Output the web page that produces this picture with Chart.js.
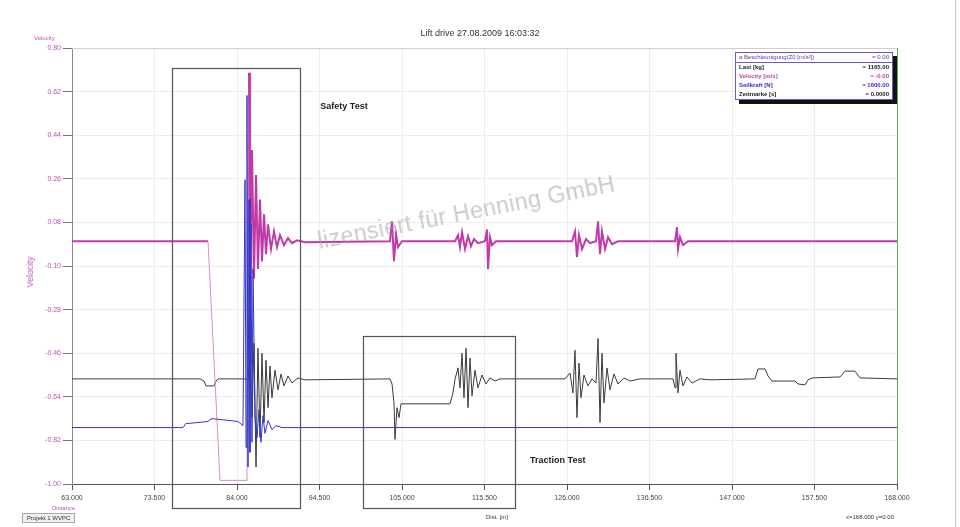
<!DOCTYPE html>
<html>
<head>
<meta charset="utf-8">
<title>Lift drive</title>
<script src="https://cdn.jsdelivr.net/npm/chart.js@4.4.1/dist/chart.umd.min.js"></script>
<style>
    html, body { margin: 0; padding: 0; background: #fff; }
    #wrap { position: relative; width: 960px; height: 527px; overflow: hidden; font-family: Arial, "Liberation Sans", sans-serif; }
    #wrap canvas { position: absolute; left: 0; top: 0; }
    .txt { position: absolute; white-space: nowrap; line-height: 1; }
    #frame { position: absolute; left: 955px; top: 0; width: 1px; height: 527px; background: #c8c8c8; }
    #legendBox { position: absolute; left: 735px; top: 52px; width: 156px; border: 1px solid #6a5acd; background: #fff; box-shadow: 4px 4px 0 #111; font-size: 6px; font-weight: bold; }
    #legendBox .row { display: flex; justify-content: space-between; padding: 1px 3px; height: 7px; line-height: 7px; }
    #legendBox .row.first { border-bottom: 1px solid #6a5acd; font-weight: normal; }
    #watermark { position: absolute; left: 318px; top: 228px; font-size: 23px; color: rgba(150,150,150,0.5); transform: rotate(-11deg); transform-origin: left center; letter-spacing: 0.5px; }
    #yTitle { position: absolute; left: 30px; top: 272px; font-size: 9px; color: #c050c0; transform: translate(-50%, -50%) rotate(-90deg); }
    #project { position: absolute; left: 22px; top: 513px; font-size: 6px; color: #333; background: #eee; border: 1px solid #aaa; padding: 1px 4px; }
</style>
</head>
<body>
<div id="wrap">
    <canvas id="liftChart" width="960" height="527"></canvas>
    <div class="txt" style="left:0;width:960px;top:29px;text-align:center;font-size:9px;color:#333;">Lift drive 27.08.2009 16:03:32</div>
    <div class="txt" style="left:34px;top:35px;font-size:6px;color:#c050c0;">Velocity</div>
    <div id="yTitle">Velocity</div>
    <div id="watermark">lizensiert für Henning GmbH</div>
    <div id="legendBox">
        <div class="row first" style="color:#4b3bb8;"><span>a Beschleunigung(Z0 [m/s²])</span><span>= 0.00</span></div>
        <div class="row" style="color:#222;"><span>Last [kg]</span><span>= 1165.00</span></div>
        <div class="row" style="color:#c040b0;"><span>Velocity [m/s]</span><span>= -0.00</span></div>
        <div class="row" style="color:#3030c0;"><span>Seilkraft [N]</span><span>= 1600.00</span></div>
        <div class="row" style="color:#222;"><span>Zeitmarke [s]</span><span>= 0.0000</span></div>
    </div>
    <div class="txt" style="left:52px;top:505px;font-size:6px;color:#c050c0;">Distance</div>
    <div id="project">Projekt 1 WVPC</div>
    <div class="txt" style="left:486px;top:514px;font-size:6px;color:#333;">Dist. [m]</div>
    <div class="txt" style="left:846px;top:514px;font-size:6px;color:#333;">x=168.000 y=0.00</div>
    <div id="frame"></div>
</div>

<script>
// ============================================
// LIFT DRIVE RECORDING
// ============================================

// axis ticks
const distTicks = [63, 73.5, 84, 94.5, 105, 115.5, 126, 136.5, 147, 157.5, 168];
const velTicks = [-1.00, -0.82, -0.64, -0.46, -0.28, -0.10, 0.08, 0.26, 0.44, 0.62, 0.80];

// traces as [distance, value]
const loadTrace = [
    [63.00,-0.566],[79.29,-0.566],[79.80,-0.575],[80.05,-0.595],[81.07,-0.595],[81.33,-0.575],[81.58,-0.566],
    [85.02,-0.566],[85.40,-0.575],[85.65,-0.480],[85.91,-0.726],[86.16,-0.419],[86.42,-0.930],[86.67,-0.440],
    [86.93,-0.808],[87.18,-0.460],[87.44,-0.746],[87.69,-0.489],[87.95,-0.685],[88.20,-0.513],[88.45,-0.644],
    [88.84,-0.530],[89.22,-0.611],[89.60,-0.546],[89.98,-0.595],[90.49,-0.554],[91.00,-0.583],[91.76,-0.562],
    [92.65,-0.570],[103.47,-0.566],[103.73,-0.587],[103.98,-0.665],[104.11,-0.816],[104.36,-0.685],[104.62,-0.726],
    [104.87,-0.669],[105.38,-0.669],[111.11,-0.669],[111.49,-0.624],[111.75,-0.566],[112.13,-0.521],[112.38,-0.603],
    [112.64,-0.460],[112.89,-0.644],[113.15,-0.440],[113.40,-0.685],[113.66,-0.480],[113.91,-0.636],[114.29,-0.530],
    [114.67,-0.603],[115.18,-0.550],[115.69,-0.587],[116.20,-0.562],[116.84,-0.575],[117.47,-0.566],[125.75,-0.566],
    [126.38,-0.542],[126.76,-0.624],[127.02,-0.448],[127.27,-0.726],[127.53,-0.501],[127.78,-0.644],[128.16,-0.550],
    [128.67,-0.595],[129.18,-0.566],[129.69,-0.583],[129.95,-0.399],[130.20,-0.746],[130.45,-0.460],[130.71,-0.665],
    [131.09,-0.521],[131.47,-0.611],[131.98,-0.546],[132.49,-0.587],[133.25,-0.562],[134.02,-0.575],[135.29,-0.566],
    [139.49,-0.566],[139.75,-0.603],[139.87,-0.460],[140.13,-0.624],[140.38,-0.530],[140.76,-0.595],[141.27,-0.558],
    [141.91,-0.583],[142.93,-0.566],[144.20,-0.570],[149.93,-0.566],[150.31,-0.525],[151.20,-0.525],[151.58,-0.554],
    [152.09,-0.575],[155.02,-0.575],[155.40,-0.587],[156.29,-0.591],[156.67,-0.570],[157.18,-0.562],[160.75,-0.558],
    [161.38,-0.534],[162.65,-0.534],[163.29,-0.562],[168.00,-0.566]
];

const velocityTrace = [
    [63.00,0.002],[80.31,0.002],[81.84,-0.985],[85.27,-0.985],[85.53,0.698],[85.65,-0.235],[85.91,0.379],
    [86.16,-0.153],[86.42,0.276],[86.67,-0.112],[86.93,0.174],[87.18,-0.080],[87.44,0.113],[87.69,-0.051],
    [87.95,0.072],[88.33,-0.030],[88.71,0.043],[89.09,-0.022],[89.47,0.027],[89.98,-0.014],[90.49,0.015],
    [91.00,-0.006],[91.64,0.006],[92.65,-0.002],[103.47,0.002],[103.73,0.084],[103.98,-0.080],[104.24,0.031],
    [104.49,-0.022],[105.00,0.002],[111.75,0.002],[112.13,0.027],[112.38,-0.022],[112.64,0.039],[113.02,-0.030],
    [113.40,0.023],[113.78,-0.018],[114.16,0.011],[114.67,-0.006],[115.56,0.002],[115.82,0.051],[115.95,-0.112],
    [116.20,0.019],[116.45,-0.014],[116.96,0.002],[126.64,0.002],[127.02,0.043],[127.27,-0.063],[127.53,0.027],
    [127.91,-0.030],[128.42,0.011],[128.93,-0.006],[129.69,0.002],[129.95,0.084],[130.20,-0.051],[130.45,0.043],
    [130.84,-0.030],[131.22,0.019],[131.73,-0.010],[132.49,0.002],[139.75,0.002],[140.00,0.060],[140.13,-0.030],
    [140.38,0.019],[140.76,-0.014],[141.40,0.002],[168.00,0.002]
];

const ropeForceTrace = [
    [63.00,-0.767],[77.13,-0.767],[77.51,-0.750],[77.76,-0.750],[80.31,-0.742],[80.56,-0.734],[80.82,-0.730],
    [84.13,-0.742],[84.76,-0.759],[85.02,0.256],[85.15,-0.849],[85.27,0.604],[85.40,-0.930],[85.53,0.174],
    [85.65,-0.869],[85.78,0.072],[85.91,-0.828],[86.04,-0.112],[86.29,-0.726],[86.55,-0.808],[86.80,-0.693],
    [87.05,-0.828],[87.31,-0.718],[87.56,-0.791],[87.95,-0.738],[88.45,-0.775],[88.96,-0.759],[89.73,-0.767],
    [168.00,-0.767]
];

// marked test sections (distance range, top/bottom value, label anchor)
const testBoxes = [
    { label: 'Safety Test', from: 75.73, to: 92.02, top: 0.718, bottom: -1.10, labelX: 94.6, labelY: 0.56 },
    { label: 'Traction Test', from: 100.04, to: 119.38, top: -0.39, bottom: -1.10, labelX: 121.3, labelY: -0.905 }
];

const toPoints = arr => arr.map(p => ({ x: p[0], y: p[1] }));

// the part of the velocity trace that hits the bottom limit is drawn faint
const atFloor = c => c.p0.parsed.y <= -0.98 || c.p1.parsed.y <= -0.98;

// frame edges + test boxes drawn against the scales
const testBoxPlugin = {
    id: 'testBoxes',
    afterDatasetsDraw(chart) {
        const { ctx, chartArea, scales } = chart;
        const xs = scales.x, ys = scales.y;
        ctx.save();
        // faint top edge, green right edge
        ctx.lineWidth = 1;
        ctx.strokeStyle = '#d0d0d0';
        ctx.beginPath();
        ctx.moveTo(chartArea.left, chartArea.top + 0.5);
        ctx.lineTo(chartArea.right, chartArea.top + 0.5);
        ctx.stroke();
        ctx.strokeStyle = '#4caf50';
        ctx.beginPath();
        ctx.moveTo(chartArea.right + 0.5, chartArea.top);
        ctx.lineTo(chartArea.right + 0.5, chartArea.bottom);
        ctx.stroke();

        testBoxes.forEach(b => {
            const x0 = Math.round(xs.getPixelForValue(b.from)) + 0.5;
            const x1 = Math.round(xs.getPixelForValue(b.to)) + 0.5;
            const y0 = Math.round(ys.getPixelForValue(b.top)) + 0.5;
            const y1 = Math.round(ys.getPixelForValue(b.bottom)) + 0.5;
            ctx.strokeStyle = '#555';
            ctx.lineWidth = 1.2;
            ctx.strokeRect(x0, y0, x1 - x0, y1 - y0);
            ctx.fillStyle = '#222';
            ctx.font = 'bold 9px Arial, "Liberation Sans", sans-serif';
            ctx.textAlign = 'left';
            ctx.textBaseline = 'middle';
            ctx.fillText(b.label, xs.getPixelForValue(b.labelX), ys.getPixelForValue(b.labelY));
        });
        ctx.restore();
    }
};

document.addEventListener('DOMContentLoaded', () => {
    const ctx = document.getElementById('liftChart').getContext('2d');

    new Chart(ctx, {
        type: 'line',
        data: {
            datasets: [
                {
                    label: 'Seilkraft [N]',
                    data: toPoints(ropeForceTrace),
                    borderColor: '#3636c4',
                    borderWidth: 1,
                    pointRadius: 0,
                    tension: 0,
                    order: 1
                },
                {
                    label: 'Velocity [m/s]',
                    data: toPoints(velocityTrace),
                    borderColor: '#c23aa6',
                    borderWidth: 2,
                    pointRadius: 0,
                    tension: 0,
                    order: 2,
                    segment: {
                        borderColor: c => atFloor(c) ? '#d98ccd' : undefined,
                        borderWidth: c => atFloor(c) ? 1 : undefined
                    }
                },
                {
                    label: 'Last [kg]',
                    data: toPoints(loadTrace),
                    borderColor: '#3a3a3a',
                    borderWidth: 1,
                    pointRadius: 0,
                    tension: 0,
                    order: 3
                }
            ]
        },
        options: {
            responsive: false,
            animation: false,
            layout: { padding: { left: 0, right: 63, top: 48, bottom: 0 } },
            plugins: {
                legend: { display: false },
                tooltip: { enabled: false }
            },
            scales: {
                x: {
                    type: 'linear',
                    min: 63,
                    max: 168,
                    afterBuildTicks: axis => { axis.ticks = distTicks.map(v => ({ value: v })); },
                    afterFit: axis => { axis.height = 43; },
                    border: { color: '#555', width: 1 },
                    grid: { color: '#ececec', tickColor: '#555', tickLength: 6 },
                    ticks: {
                        color: '#444',
                        font: { size: 7, family: 'Arial' },
                        padding: 4,
                        maxRotation: 0,
                        callback: v => v.toFixed(3)
                    }
                },
                y: {
                    min: -1.0,
                    max: 0.8,
                    afterBuildTicks: axis => { axis.ticks = velTicks.map(v => ({ value: v })); },
                    afterFit: axis => { axis.width = 72; },
                    border: { color: '#888', width: 1 },
                    grid: { color: '#ececec', tickColor: '#777', tickLength: 9 },
                    ticks: {
                        color: '#c050c0',
                        font: { size: 7, family: 'Arial' },
                        padding: 2,
                        callback: v => v.toFixed(2)
                    }
                }
            }
        },
        plugins: [testBoxPlugin]
    });
});
</script>
</body>
</html>
